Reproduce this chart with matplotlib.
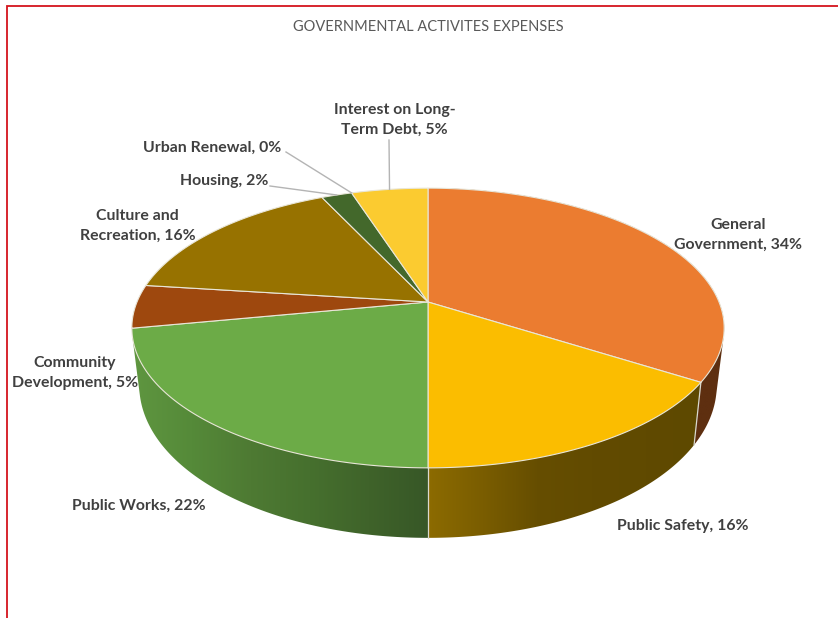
import numpy as np
import matplotlib
matplotlib.use("Agg")
import matplotlib.pyplot as plt
from matplotlib.patches import Polygon
from matplotlib.colors import LinearSegmentedColormap

# Expense shares, clockwise from twelve o'clock
categories = ["General\nGovernment", "Public Safety", "Public Works", "Community\nDevelopment",
              "Culture and\nRecreation", "Housing", "Urban Renewal", "Interest on Long-\nTerm Debt"]
shares = [34, 16, 22, 5, 16, 2, 0, 5]
top_colors = ["#EB7C30", "#FBBD00", "#6CAB47", "#9E480E", "#977200", "#43682B", "#636363", "#FBCB30"]
wall_ramps = {
    0: ["#5E2F10", "#5E2F10"],
    1: ["#8C6B00", "#7A5D00", "#664E00", "#624B00", "#604A00", "#5E4900"],
    2: ["#5F9640", "#558A39", "#4E7A33", "#46702E", "#3F632A", "#375727"],
}
title = "GOVERNMENTAL ACTIVITES EXPENSES"

# Page-pixel layout of the tilted pie
CX, CY = 428.0, 302.0
RX, RY, PERSP = 291.0, 135.0, 0.186
WALL_SHRINK, WALL_BASE, WALL_SLOPE = 0.975, 54.0, 16.0


def top_point(theta):
    """Perspective projection of a rim angle (clockwise from north) on the upper face."""
    u, v = np.sin(theta), np.cos(theta)
    d = 1 + PERSP * v
    return CX + RX * u / d, CY - RY * v / d


def bottom_point(theta):
    x, y = top_point(theta)
    return CX + (x - CX) * WALL_SHRINK, y + WALL_BASE - WALL_SLOPE * np.cos(theta)


def convex_hull(points):
    """Monotone-chain hull, used so the wall keeps a straight silhouette at the pie's sides."""
    pts = sorted(map(tuple, points))

    def half(seq):
        chain = []
        for p in seq:
            while len(chain) > 1:
                (ax_, ay_), (bx_, by_) = chain[-2], chain[-1]
                if (bx_ - ax_) * (p[1] - ay_) - (by_ - ay_) * (p[0] - ax_) > 0:
                    break
                chain.pop()
            chain.append(p)
        return chain[:-1]

    return np.array(half(pts) + half(pts[::-1]))


fig = plt.figure(figsize=(8.38, 6.18), dpi=100, facecolor="white")
ax = fig.add_axes([0, 0, 1, 1])
ax.axis("off")

# Red page rule along the top and left edges
ax.plot([838, 6.5, 6.5], [5.5, 5.5, 618], color="#D4141C", lw=1.3, solid_joinstyle="miter", zorder=1)

edges = np.cumsum([0] + shares) / sum(shares) * 2 * np.pi

# Side wall: a horizontal colour ramp clipped to each segment's outline
for i, ramp in wall_ramps.items():
    cmap = LinearSegmentedColormap.from_list(f"wall{i}", ramp)
    th = np.linspace(edges[i], edges[i + 1], 200)
    upper = np.array([top_point(t) for t in th])
    lower = np.array([bottom_point(t) for t in th])
    outline = convex_hull(np.vstack([upper, lower]))
    xmin, xmax = outline[:, 0].min(), outline[:, 0].max()
    ymin, ymax = outline[:, 1].min(), outline[:, 1].max()
    ramp_dir = np.linspace(0, 1, 256)[None, :]
    img = ax.imshow(ramp_dir, cmap=cmap, extent=(xmin, xmax, ymax, ymin), aspect="auto",
                    interpolation="bilinear", zorder=2)
    img.set_clip_path(Polygon(outline, closed=True, transform=ax.transData))

ax.set_xlim(0, 838)
ax.set_ylim(618, 0)

# Light seams where the wall segments meet
for e in (edges[1], edges[2]):
    p, q = top_point(e), bottom_point(e)
    ax.plot([p[0], q[0]], [p[1], q[1]], color="#D9D9CF", lw=0.9, zorder=3)

# Upper face
for i, share in enumerate(shares):
    if share == 0:
        continue
    th = np.linspace(edges[i], edges[i + 1], 120)
    rim = [top_point(t) for t in th]
    ax.add_patch(Polygon([(CX, CY)] + rim, closed=True, facecolor=top_colors[i],
                         edgecolor="#E9E6D8", lw=0.8, joinstyle="round", zorder=4))

# Data labels
text_color = "#404040"
label_pos = [(738, 235), (683, 526), (139, 506), (75, 373), (137.5, 226), (224, 181), (212, 148), (394.5, 120)]
for name, share, (lx, ly) in zip(categories, shares, label_pos):
    ax.text(lx, ly, f"{name}, {share}%", ha="center", va="center", fontsize=11.4, family="Lato",
            weight="bold", color=text_color, linespacing=1.57, zorder=6)

# Leader lines for the narrow slices
mid = (edges[:-1] + edges[1:]) / 2
leaders = {5: (270, 186), 6: (286, 152), 7: (389, 140)}
for i, (sx, sy) in leaders.items():
    ex, ey = top_point(mid[i])
    ax.plot([sx, ex], [sy, ey], color="#B4B4B4", lw=1.0, zorder=5)

ax.text(428, 27, title, ha="center", va="center", fontsize=10.55, family="Lato", color="#595959", zorder=6)

fig.savefig("out.png", dpi=100, facecolor="white")
